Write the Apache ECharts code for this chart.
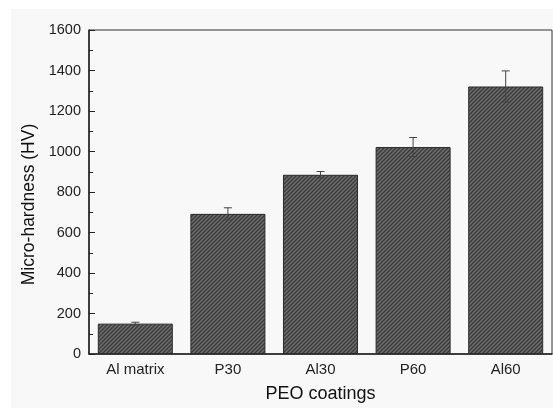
<!DOCTYPE html>
<html>
<head>
<meta charset="utf-8">
<script src="https://cdn.jsdelivr.net/npm/echarts@6/dist/echarts.min.js"></script>
<style>
  html, body { margin: 0; padding: 0; background: #ffffff; }
  #main { width: 553px; height: 408px; }
</style>
</head>
<body>
<div id="main"></div>
<script>
// data
const categories = ['Al matrix', 'P30', 'Al30', 'P60', 'Al60'];
const hardness = [150, 692, 885, 1022, 1321];
const errors = [7, 30, 16, 47, 77];

// diagonal hatch for the bars
function hatch() {
  const c = document.createElement('canvas');
  c.width = 4; c.height = 4;
  const ctx = c.getContext('2d');
  ctx.fillStyle = '#6e6e6e';
  ctx.fillRect(0, 0, 4, 4);
  ctx.strokeStyle = '#3a3a3a';
  ctx.lineWidth = 1.3;
  ctx.beginPath();
  ctx.moveTo(-1, 5); ctx.lineTo(5, -1);
  ctx.moveTo(-1, 1); ctx.lineTo(1, -1);
  ctx.moveTo(3, 5); ctx.lineTo(5, 3);
  ctx.stroke();
  return c;
}

const chart = echarts.init(document.getElementById('main'));
const font = 'Liberation Sans, Arial, sans-serif';

const option = {
  animation: false,
  graphic: [{
    type: 'rect', z: -10, silent: true,
    shape: { x: 11, y: 9, width: 542, height: 399 },
    style: { fill: '#f8f8f8' }
  }],
  grid: {
    left: 89, top: 30, right: 1, bottom: 52,
    show: true, borderColor: '#333', borderWidth: 1, backgroundColor: 'transparent'
  },
  xAxis: [{
    type: 'category',
    data: categories,
    position: 'bottom',
    name: 'PEO coatings',
    nameLocation: 'middle',
    nameGap: 31,
    nameTextStyle: { fontFamily: font, fontSize: 18, color: '#111' },
    axisLine: { lineStyle: { color: '#222', width: 1.5 } },
    axisTick: { alignWithLabel: true, inside: true, length: 6, lineStyle: { color: '#222' } },
    axisLabel: { fontFamily: font, fontSize: 15, color: '#222', margin: 8 },
    splitLine: { show: false }
  }, {
    type: 'category',
    data: categories,
    position: 'bottom',
    axisLine: { show: false },
    axisTick: { inside: true, length: 3, lineStyle: { color: '#222' } },
    axisLabel: { show: false },
    splitLine: { show: false }
  }],
  yAxis: {
    type: 'value',
    min: 0, max: 1600, interval: 200,
    name: 'Micro-hardness (HV)',
    nameLocation: 'middle',
    nameGap: 51,
    nameTextStyle: { fontFamily: font, fontSize: 17.5, color: '#111', padding: [0, 0, 0, -25] },
    axisLine: { show: true, lineStyle: { color: '#222', width: 1.5 } },
    axisTick: { show: true, inside: true, length: 6, lineStyle: { color: '#222' } },
    minorTick: { show: true, splitNumber: 2, length: 4, lineStyle: { color: '#222' } },
    axisLabel: { fontFamily: font, fontSize: 14.5, color: '#222', margin: 8, formatter: v => String(v) },
    splitLine: { show: false }
  },
  series: [{
    type: 'bar',
    data: hardness,
    barWidth: '81%',
    itemStyle: {
      color: { image: hatch(), repeat: 'repeat' },
      borderColor: '#2a2a2a',
      borderWidth: 1
    }
  }, {
    type: 'custom',
    data: hardness.map((v, i) => [i, v - errors[i], v + errors[i]]),
    z: 5,
    renderItem: function (params, api) {
      const lo = api.coord([api.value(0), api.value(1)]);
      const hi = api.coord([api.value(0), api.value(2)]);
      const w = 4;
      const style = { stroke: '#444', lineWidth: 1 };
      return {
        type: 'group',
        children: [
          { type: 'line', shape: { x1: hi[0], y1: hi[1], x2: lo[0], y2: lo[1] }, style: style },
          { type: 'line', shape: { x1: hi[0] - w, y1: hi[1], x2: hi[0] + w, y2: hi[1] }, style: style },
          { type: 'line', shape: { x1: lo[0] - w, y1: lo[1], x2: lo[0] + w, y2: lo[1] }, style: style }
        ]
      };
    }
  }]
};

chart.setOption(option);
</script>
</body>
</html>
